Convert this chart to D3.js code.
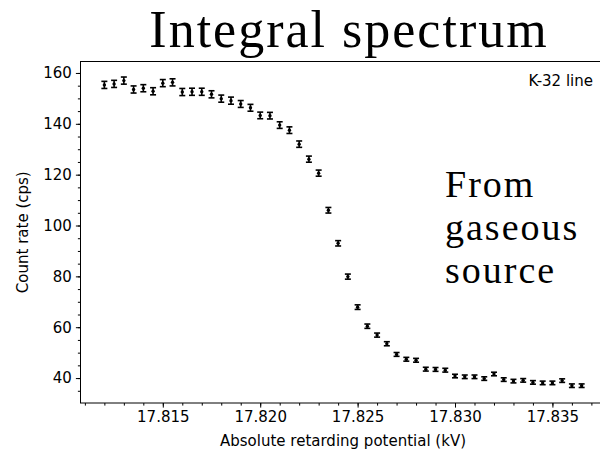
<!DOCTYPE html>
<html>
<head>
<meta charset="utf-8">
<script src="https://cdn.jsdelivr.net/npm/d3@7"></script>
<style>
  body { margin: 0; background: #fff; }
  svg { display: block; }
</style>
</head>
<body>
<svg id="chart" width="600" height="451"></svg>
<script>
// retarding potential (kV)
var voltage = [17.8120, 17.8125, 17.8130, 17.8135, 17.8140, 17.8145, 17.8150, 17.8155, 17.8160, 17.8165,
               17.8170, 17.8175, 17.8180, 17.8185, 17.8190, 17.8195, 17.8200, 17.8205, 17.8210, 17.8215,
               17.8220, 17.8225, 17.8230, 17.8235, 17.8240, 17.8245, 17.8250, 17.8255, 17.8260, 17.8265,
               17.8270, 17.8275, 17.8280, 17.8285, 17.8290, 17.8295, 17.8300, 17.8305, 17.8310, 17.8315,
               17.8320, 17.8325, 17.8330, 17.8335, 17.8340, 17.8345, 17.8350, 17.8355, 17.8360, 17.8365]
// count rate (cps)
var rate = [155.3, 155.7, 157.0, 153.5, 154.0, 152.8, 156.0, 156.3, 152.5, 152.6,
            152.6, 151.6, 149.9, 149.1, 147.8, 146.3, 143.3, 143.2, 139.5, 137.5,
            132.0, 126.1, 120.6, 106.0, 93.0, 79.9, 67.9, 60.4, 56.9, 53.5,
            49.3, 47.4, 47.0, 43.5, 43.4, 43.1, 40.8, 40.5, 40.5, 39.8,
            41.6, 39.4, 38.8, 39.1, 38.3, 38.1, 38.1, 39.0, 37.0, 37.0]
// 1 sigma
var rateErr = [1.4, 1.4, 1.4, 1.4, 1.4, 1.4, 1.4, 1.4, 1.4, 1.4,
               1.4, 1.4, 1.4, 1.4, 1.35, 1.35, 1.3, 1.3, 1.3, 1.3,
               1.25, 1.2, 1.2, 1.1, 1.05, 1.0, 0.9, 0.85, 0.8, 0.8,
               0.75, 0.75, 0.75, 0.75, 0.75, 0.75, 0.7, 0.7, 0.7, 0.7,
               0.7, 0.7, 0.7, 0.7, 0.7, 0.7, 0.7, 0.7, 0.7, 0.7]

var xTicks = [17.815, 17.820, 17.825, 17.830, 17.835]
var yTicks = [40, 60, 80, 100, 120, 140, 160]

var title = "Integral spectrum"
var note = ["From", "gaseous", "source"]
var legendLabel = "K-32 line"

var data = voltage.map((v, i) => ({ v: v, r: rate[i], e: rateErr[i] }))

var svg = d3.select("#chart")
var plotL = 80.5, plotT = 61.5, plotR = 605.5, plotB = 403

// matplotlib style 5% margins
var xExt = d3.extent(voltage)
var xPad = (xExt[1] - xExt[0]) * 0.05
var lo = d3.min(data, d => d.r - d.e), hi = d3.max(data, d => d.r + d.e)
var yPad = (hi - lo) * 0.05

var x = d3.scaleLinear().domain([xExt[0] - xPad, xExt[1] + xPad]).range([plotL, plotR])
var y = d3.scaleLinear().domain([lo - yPad, hi + yPad]).range([plotB, plotT])

var font = "'DejaVu Sans', sans-serif"
var fontSize = "15px"

// minor ticks
var xMinor = d3.range(17.811, 17.8375, 0.001)
var yMinor = d3.range(35, 165, 5)

var gx = svg.append("g").attr("transform", "translate(0," + plotB + ")")
gx.call(d3.axisBottom(x).tickValues(xMinor).tickSize(2.6).tickFormat(""))
gx.append("g").call(d3.axisBottom(x).tickValues(xTicks).tickSize(4.6).tickPadding(4).tickFormat(d3.format(".3f")))
gx.selectAll(".domain").remove()
gx.selectAll("text").attr("font-family", font).attr("font-size", fontSize).attr("fill", "#000")
gx.selectAll("line").attr("stroke", "#000").attr("stroke-width", 1)

var gy = svg.append("g").attr("transform", "translate(" + plotL + ",0)")
gy.call(d3.axisLeft(y).tickValues(yMinor).tickSize(2.6).tickFormat(""))
gy.append("g").call(d3.axisLeft(y).tickValues(yTicks).tickSize(4.6).tickPadding(4))
gy.selectAll(".domain").remove()
gy.selectAll("text").attr("font-family", font).attr("font-size", fontSize).attr("fill", "#000")
gy.selectAll("line").attr("stroke", "#000").attr("stroke-width", 1)

// spines
svg.append("rect")
  .attr("x", plotL).attr("y", plotT)
  .attr("width", plotR - plotL).attr("height", plotB - plotT)
  .attr("fill", "none").attr("stroke", "#000").attr("stroke-width", 1)

// error bars
var capW = 3
var bars = svg.append("g").selectAll("g")
  .data(data)
  .enter()
  .append("g")
  .attr("stroke", "#000")
  .attr("stroke-width", 1.6)

bars.append("line")
  .attr("x1", d => x(d.v)).attr("x2", d => x(d.v))
  .attr("y1", d => y(d.r - d.e)).attr("y2", d => y(d.r + d.e))
bars.append("line")
  .attr("x1", d => x(d.v) - capW).attr("x2", d => x(d.v) + capW)
  .attr("y1", d => y(d.r - d.e)).attr("y2", d => y(d.r - d.e))
bars.append("line")
  .attr("x1", d => x(d.v) - capW).attr("x2", d => x(d.v) + capW)
  .attr("y1", d => y(d.r + d.e)).attr("y2", d => y(d.r + d.e))
bars.append("circle")
  .attr("cx", d => x(d.v)).attr("cy", d => y(d.r))
  .attr("r", 1.7).attr("fill", "#000").attr("stroke", "none")

// labels
svg.append("text")
  .attr("x", 343).attr("y", 446)
  .attr("text-anchor", "middle")
  .attr("font-family", font).attr("font-size", fontSize)
  .text("Absolute retarding potential (kV)")

svg.append("text")
  .attr("transform", "translate(28," + (plotT + plotB) / 2 + ") rotate(-90)")
  .attr("text-anchor", "middle")
  .attr("font-family", font).attr("font-size", fontSize)
  .text("Count rate (cps)")

svg.append("text")
  .attr("x", 593).attr("y", 86)
  .attr("text-anchor", "end")
  .attr("font-family", font).attr("font-size", fontSize)
  .text(legendLabel)

svg.append("text")
  .attr("x", 349).attr("y", 47)
  .attr("text-anchor", "middle")
  .attr("letter-spacing", "2px")
  .attr("font-family", "'Liberation Serif', serif").attr("font-size", "52px")
  .text(title)

svg.append("g").selectAll("text")
  .data(note)
  .enter()
  .append("text")
  .attr("x", 445)
  .attr("y", (d, i) => 197 + i * 43)
  .attr("letter-spacing", "2px")
  .attr("font-family", "'Liberation Serif', serif").attr("font-size", "38px")
  .text(d => d)
</script>
</body>
</html>
